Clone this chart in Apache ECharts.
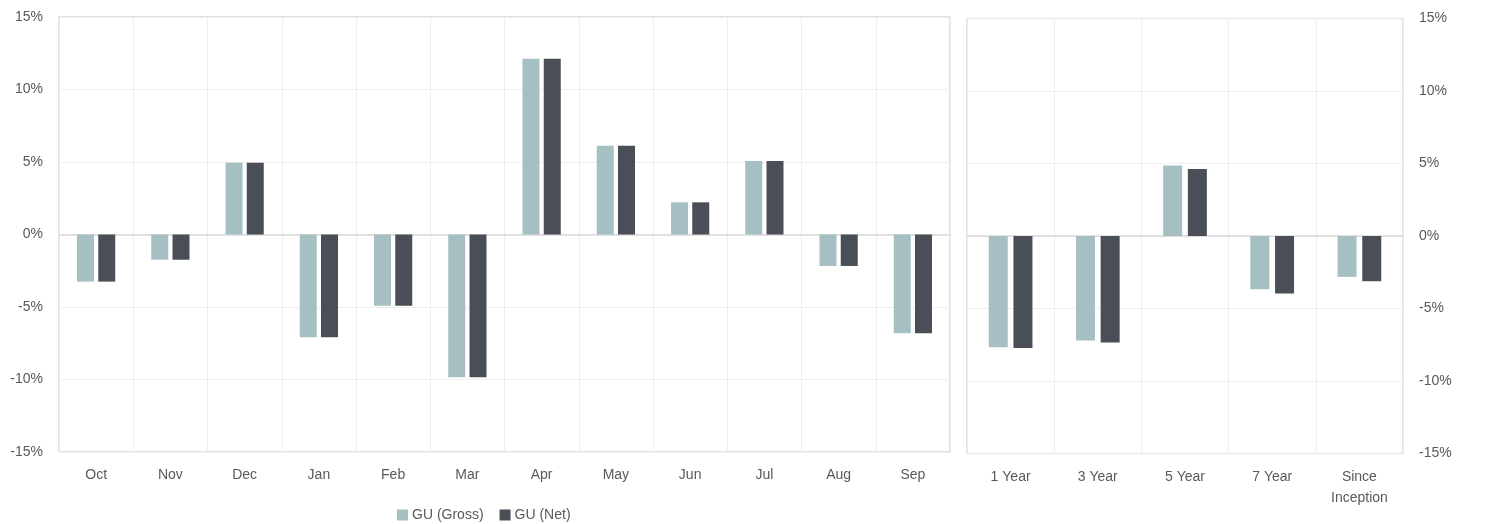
<!DOCTYPE html>
<html>
<head>
<meta charset="utf-8">
<script src="https://cdn.jsdelivr.net/npm/echarts@6/dist/echarts.min.js"></script>
<style>
html,body{margin:0;padding:0;background:#fff;}
#chart{width:1485px;height:524px;}
</style>
</head>
<body>
<div id="chart"></div>
<script>
var monthCategories = ['Oct','Nov','Dec','Jan','Feb','Mar','Apr','May','Jun','Jul','Aug','Sep'];
var monthGross = [-3.25,-1.74,4.95,-7.09,-4.91,-9.85,12.12,6.12,2.22,5.07,-2.17,-6.81];
var monthNet   = [-3.25,-1.74,4.95,-7.09,-4.91,-9.85,12.12,6.12,2.22,5.07,-2.17,-6.81];
var periodCategories = ['1 Year','3 Year','5 Year','7 Year','Since\nInception'];
var periodGross = [-7.68,-7.20,4.87,-3.68,-2.82];
var periodNet   = [-7.73,-7.34,4.62,-3.97,-3.12];
var yTicks = [-15,-10,-5,0,5,10,15];

var grossColor = '#a5bfc2';
var netColor = '#4a4e57';
var font = 'Liberation Sans, Arial, sans-serif';
var labelColor = '#595959';

var chart = echarts.init(document.getElementById('chart'), null, {renderer:'canvas'});

function yAxis(gridIndex, pos){
  return {
    type:'value', gridIndex:gridIndex, position:pos,
    min:yTicks[0], max:yTicks[yTicks.length-1], interval:5,
    axisLine:{show:false}, axisTick:{show:false},
    axisLabel:{formatter:function(v){return v+'%';}, color:labelColor, fontSize:14, fontFamily:font, margin:16},
    splitLine:{show:true, lineStyle:{color:'#eeeeee', width:1}}
  };
}
function xAxis(gridIndex, data){
  return {
    type:'category', gridIndex:gridIndex, data:data,
    axisLine:{show:true, onZero:true, lineStyle:{color:'#d9d9d9', width:1.5}},
    axisTick:{show:false},
    axisLabel:{color:labelColor, fontSize:14, fontFamily:font, margin:13, lineHeight:21, verticalAlign:'top'},
    splitLine:{show:true, lineStyle:{color:'#eeeeee', width:1}}
  };
}

var option = {
  backgroundColor:'#ffffff',
  animation:false,
  legend:{
    data:['GU (Gross)','GU (Net)'],
    left:392, top:503,
    itemWidth:11, itemHeight:11, itemGap:16,
    icon:'rect',
    textStyle:{color:labelColor, fontSize:14, fontFamily:font, padding:[0,0,0,-1]}
  },
  grid:[
    {left:59, top:17, width:891, height:435, show:true, borderColor:'#d9d9d9', borderWidth:1.5, backgroundColor:'transparent'},
    {left:967, top:18.5, width:436, height:435, show:true, borderColor:'#d9d9d9', borderWidth:1.5, backgroundColor:'transparent'}
  ],
  xAxis:[ xAxis(0, monthCategories), xAxis(1, periodCategories) ],
  yAxis:[ yAxis(0,'left'), yAxis(1,'right') ],
  series:[
    {name:'GU (Gross)', type:'bar', xAxisIndex:0, yAxisIndex:0, data:monthGross, barWidth:17, barGap:'25%', itemStyle:{color:grossColor}},
    {name:'GU (Net)', type:'bar', xAxisIndex:0, yAxisIndex:0, data:monthNet, barWidth:17, barGap:'25%', itemStyle:{color:netColor}},
    {name:'GU (Gross)', type:'bar', xAxisIndex:1, yAxisIndex:1, data:periodGross, barWidth:19, barGap:'30%', itemStyle:{color:grossColor}},
    {name:'GU (Net)', type:'bar', xAxisIndex:1, yAxisIndex:1, data:periodNet, barWidth:19, barGap:'30%', itemStyle:{color:netColor}}
  ]
};
chart.setOption(option);
</script>
</body>
</html>
